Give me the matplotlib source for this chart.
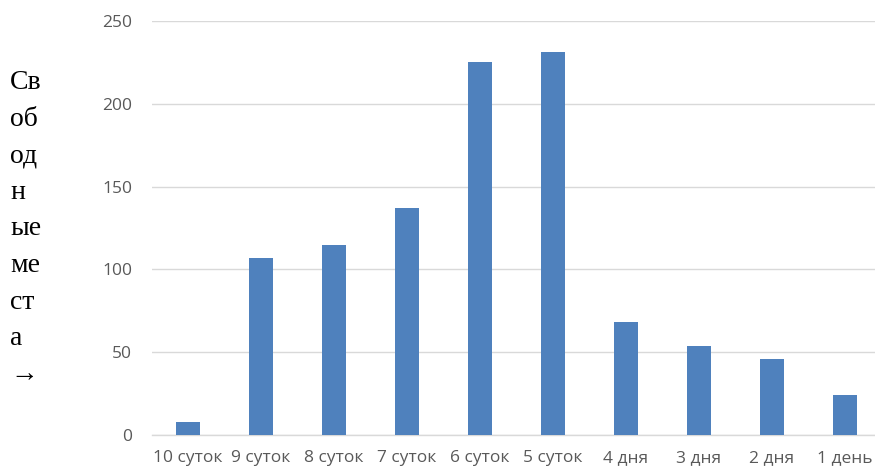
import matplotlib
matplotlib.use("Agg")
import matplotlib.pyplot as plt

categories = ["10 суток", "9 суток", "8 суток", "7 суток", "6 суток",
              "5 суток", "4 дня", "3 дня", "2 дня", "1 день"]
free_seats = [8, 107, 115, 137, 225, 231, 68, 54, 46, 24]
y_ticks = [0, 50, 100, 150, 200, 250]
y_label_lines = ["Св", "об", "од", "н", "ые", "ме", "ст", "а", "→"]

W, H = 875, 469
fig = plt.figure(figsize=(W / 100, H / 100), dpi=100)
ax = fig.add_axes([151.5 / W, 34 / H, 730 / W, 414 / H])

x = range(len(categories))
ax.bar(x, free_seats, width=0.33, color="#4F81BD", zorder=3)

ax.set_xlim(-0.5, len(categories) - 0.5)
ax.set_ylim(0, 250)
ax.set_yticks(y_ticks)
ax.set_xticks(list(x))
ax.set_xticklabels(categories)

for lab in ax.get_yticklabels():
    lab.set_fontfamily("Open Sans")
    lab.set_fontsize(12.5)
    lab.set_color("#595959")
for lab in ax.get_xticklabels():
    lab.set_fontfamily("Open Sans")
    lab.set_fontsize(12.5)
    lab.set_color("#595959")

ax.tick_params(axis="y", length=0, pad=14)
ax.tick_params(axis="x", length=0, pad=11)
ax.grid(axis="y", color="#D9D9D9", linewidth=1.0, zorder=0)
for side in ("left", "right", "top"):
    ax.spines[side].set_visible(False)
ax.spines["bottom"].set_color("#D9D9D9")
ax.spines["bottom"].set_linewidth(1.0)

fig.text(10 / W, 1 - 70 / H, "\n".join(y_label_lines),
         family=["Liberation Serif", "DejaVu Serif"], fontsize=20,
         ha="left", va="top", linespacing=1.61, color="black")

fig.savefig("out.png", dpi=100)
